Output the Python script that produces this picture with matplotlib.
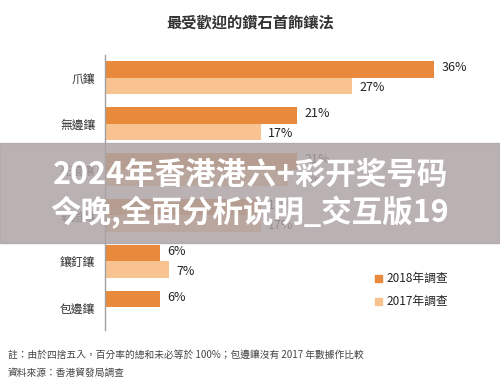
import numpy as np
import matplotlib
matplotlib.use("Agg")
import matplotlib.pyplot as plt
from matplotlib.patches import Rectangle

plt.rcParams["font.family"] = ["Noto Sans CJK TC", "DejaVu Sans"]

# data (two middle categories are hidden by the banner; values estimated)
categories = ["爪鑲", "無邊鑲", "光環鑲", "軌道鑲", "鑲釘鑲", "包邊鑲"]
survey_2018 = [36, 21, 21, 17, 6, 6]
survey_2017 = [27, 17, 20, 17, 7, np.nan]
series_labels = ["2018年調查", "2017年調查"]

title = "最受歡迎的鑽石首飾鑲法"
note = "註：由於四捨五入，百分率的總和未必等於 100%；包邊鑲沒有 2017 年數據作比較"
source = "資料來源：香港貿發局調查"
banner = ["2024年香港港六+彩开奖号码", "今晚,全面分析说明_交互版19"]

c2018 = "#e8893c"
c2017 = "#f8c390"

W, H = 500, 389
fig = plt.figure(figsize=(W / 100, H / 100), dpi=100)

# axes placed in pixel terms
left, right, top, bottom = 105, 471, 55, 330
ax = fig.add_axes([left / W, 1 - bottom / H, (right - left) / W, (bottom - top) / H])

pos = np.arange(len(categories))
bh = 0.36
ax.barh(pos, survey_2018, height=bh, color=c2018, label=series_labels[0])
ax.barh(pos + bh, survey_2017, height=bh, color=c2017, label=series_labels[1])

for y, v in zip(pos, survey_2018):
    ax.annotate(f"{v}%", (v, y), xytext=(5, 1), textcoords="offset points",
                va="center", ha="left", fontsize=9, color="#222222")
for y, v in zip(pos + bh, survey_2017):
    if np.isnan(v):
        continue
    ax.annotate(f"{v:.0f}%", (v, y), xytext=(5, -1), textcoords="offset points",
                va="center", ha="left", fontsize=9, color="#222222")

ax.set_xlim(0, 40)
ax.set_ylim(5.67, -0.31)
ax.set_yticks(pos + bh / 2)
ax.set_yticklabels(categories, fontsize=8.5, color="#333333")
ax.tick_params(axis="y", length=0, pad=7)
ax.set_xticks([])
for s in ["top", "right", "bottom"]:
    ax.spines[s].set_visible(False)
ax.spines["left"].set_color("#a0a0a0")
ax.spines["left"].set_linewidth(1)

# legend drawn by hand to keep the square markers
for i, (lab, col) in enumerate(zip(series_labels, [c2018, c2017])):
    yy = 1 - (278 + 23 * i) / H
    fig.patches.append(Rectangle((375 / W, yy - 3.5 / H), 7 / W, 7 / H,
                                 transform=fig.transFigure, color=col))
    fig.text(386 / W, yy, lab, fontsize=8.5, va="center", ha="left", color="#222222")

fig.text(0.5, 1 - 23 / H, title, ha="center", va="center", fontsize=11,
         color="#333333", fontweight="bold")
fig.text(8 / W, 1 - 355 / H, note, ha="left", va="center", fontsize=7, color="#444444")
fig.text(8 / W, 1 - 373 / H, source, ha="left", va="center", fontsize=7, color="#444444")

# grey banner with white text over the middle of the chart
fig.patches.append(Rectangle((0, 1 - 243 / H), 1, 100 / H, transform=fig.transFigure,
                             color="#aca2a3", alpha=0.83, zorder=5))
for i, line in enumerate(banner):
    fig.text(0.5, 1 - (175 + 38 * i) / H, line, ha="center", va="center",
             fontsize=22, fontweight="bold", color="white",
             family=["Noto Sans CJK SC", "DejaVu Sans"], zorder=6)

fig.savefig("out.png", dpi=100)
